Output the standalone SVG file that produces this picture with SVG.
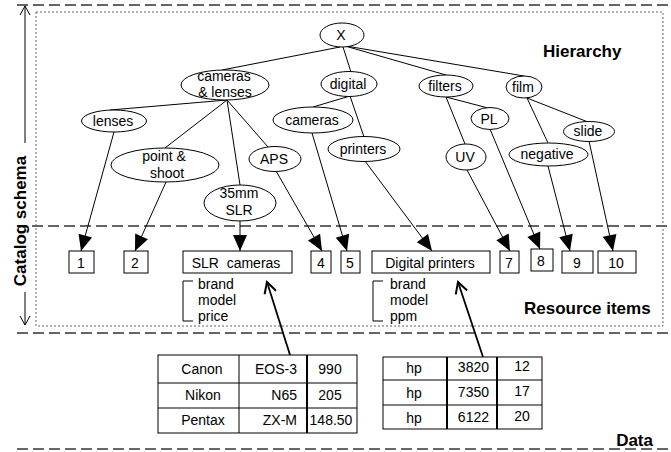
<svg xmlns="http://www.w3.org/2000/svg" width="671" height="452" viewBox="0 0 671 452">
<style>
.e{fill:#fff;stroke:#000;stroke-width:1}
.t{font-family:"Liberation Sans",Arial,Helvetica,sans-serif;font-size:14px;fill:#000}
.m{text-anchor:middle}
.r{text-anchor:end}
.b{font-weight:bold;font-size:17px}
.edge{stroke:#000;stroke-width:1;fill:none}
.arr{marker-end:url(#ah)}
.dat{stroke:#000;stroke-width:1.8;fill:none;marker-end:url(#open)}
.dash{stroke:#333;stroke-width:1.3;stroke-dasharray:11 5;fill:none}
.dot{stroke:#666;stroke-width:1;stroke-dasharray:2 2;fill:none}
.box{fill:#fff;stroke:#000;stroke-width:1}
.thk{stroke:#000;stroke-width:2}
.thn{stroke:#000;stroke-width:1}
</style>
<defs>
<marker id="ah" markerUnits="userSpaceOnUse" markerWidth="16" markerHeight="14" refX="16" refY="7" orient="auto" overflow="visible"><path d="M0,0 L16,7 L0,14 z" fill="#000"/></marker>
<marker id="open" markerUnits="userSpaceOnUse" markerWidth="14" markerHeight="14" refX="12" refY="7" orient="auto" overflow="visible"><path d="M1,1 L12,7 L1,13" fill="none" stroke="#000" stroke-width="2"/></marker>
<marker id="thinopen" markerUnits="userSpaceOnUse" markerWidth="10" markerHeight="12" refX="9" refY="6" orient="auto-start-reverse" overflow="visible"><path d="M0,1 L9,6 L0,11" fill="none" stroke="#000" stroke-width="1"/></marker>
</defs>

<g id="frame">
<line class="dash" x1="17" y1="5" x2="671" y2="5"/>
<line class="dash" x1="32" y1="226" x2="671" y2="226"/>
<line class="dash" x1="17" y1="333" x2="671" y2="333"/>
<line class="dash" x1="17" y1="449" x2="671" y2="449"/>
<rect class="dot" x="36" y="12" width="627" height="314"/>
<line x1="25" y1="143" x2="25" y2="6" stroke="#000" stroke-width="1" marker-end="url(#thinopen)"/>
<line x1="25" y1="292" x2="25" y2="325" stroke="#000" stroke-width="1" marker-end="url(#thinopen)"/>
<text class="t b m" x="26" y="221" transform="rotate(-90 26 221)">Catalog schema</text>
<text class="t b" x="543" y="57">Hierarchy</text>
<text class="t b" x="524" y="314">Resource items</text>
<text class="t b r" x="653" y="446">Data</text>
</g>

<g id="connectors">
<line class="edge" x1="340" y1="47" x2="222" y2="70"/>
<line class="edge" x1="343" y1="47" x2="351" y2="72"/>
<line class="edge" x1="345" y1="46" x2="446" y2="75"/>
<line class="edge" x1="346" y1="46" x2="524" y2="76"/>
<line class="edge" x1="227" y1="100" x2="110" y2="110"/>
<line class="edge" x1="227" y1="100" x2="165" y2="148"/>
<line class="edge" x1="227" y1="100" x2="240" y2="185"/>
<line class="edge" x1="227" y1="100" x2="268" y2="147"/>
<line class="edge" x1="350" y1="96" x2="313" y2="107"/>
<line class="edge" x1="350" y1="96" x2="364" y2="137"/>
<line class="edge" x1="446" y1="97" x2="465" y2="144"/>
<line class="edge" x1="446" y1="97" x2="488" y2="108"/>
<line class="edge" x1="527" y1="98" x2="548" y2="143"/>
<line class="edge" x1="527" y1="98" x2="588" y2="122"/>
<line class="edge arr" x1="114" y1="132" x2="81" y2="251"/>
<line class="edge arr" x1="166" y1="182" x2="135" y2="251"/>
<line class="edge arr" x1="240" y1="221" x2="240" y2="251"/>
<line class="edge arr" x1="276" y1="171" x2="322" y2="251"/>
<line class="edge arr" x1="312" y1="133" x2="347" y2="251"/>
<line class="edge arr" x1="365" y1="161" x2="432" y2="251"/>
<line class="edge arr" x1="467" y1="170" x2="510" y2="251"/>
<line class="edge arr" x1="490" y1="129" x2="540" y2="249"/>
<line class="edge arr" x1="548" y1="166" x2="570" y2="251"/>
<line class="edge arr" x1="589" y1="141" x2="613" y2="251"/>
<line class="dat" x1="290" y1="355" x2="267" y2="282"/>
<line class="dat" x1="483" y1="357" x2="458" y2="282"/>
</g>

<g id="n-X"><ellipse class="e" cx="342" cy="35" rx="22" ry="12"/><text class="t m" x="341" y="40">X</text></g>
<g id="n-cameras-lenses"><ellipse class="e" cx="225" cy="85" rx="44" ry="15"/><text class="t m" x="224" y="81">cameras</text><text class="t m" x="225" y="97">&amp; lenses</text></g>
<g id="n-digital"><ellipse class="e" cx="349" cy="84" rx="28" ry="12.5"/><text class="t m" x="348" y="89">digital</text></g>
<g id="n-filters"><ellipse class="e" cx="446" cy="86" rx="27" ry="11"/><text class="t m" x="445" y="91">filters</text></g>
<g id="n-film"><ellipse class="e" cx="524" cy="87" rx="18" ry="11"/><text class="t m" x="523" y="92">film</text></g>
<g id="n-lenses"><ellipse class="e" cx="114" cy="121" rx="32.5" ry="11"/><text class="t m" x="113" y="126">lenses</text></g>
<g id="n-cameras"><ellipse class="e" cx="313" cy="120" rx="40" ry="13"/><text class="t m" x="312" y="125">cameras</text></g>
<g id="n-point-shoot"><ellipse class="e" cx="165" cy="165" rx="54" ry="17"/><text class="t m" x="164" y="161">point &amp;</text><text class="t m" x="167" y="178">shoot</text></g>
<g id="n-APS"><ellipse class="e" cx="275" cy="159" rx="26" ry="12.5"/><text class="t m" x="274" y="164">APS</text></g>
<g id="n-35mm-SLR"><ellipse class="e" cx="240" cy="203" rx="36" ry="18"/><text class="t m" x="239" y="198">35mm</text><text class="t m" x="239" y="215">SLR</text></g>
<g id="n-printers"><ellipse class="e" cx="364" cy="149" rx="36" ry="12.5"/><text class="t m" x="363" y="154">printers</text></g>
<g id="n-PL"><ellipse class="e" cx="490" cy="118.5" rx="19" ry="11"/><text class="t m" x="489" y="124">PL</text></g>
<g id="n-UV"><ellipse class="e" cx="466" cy="157" rx="20" ry="13"/><text class="t m" x="465" y="162">UV</text></g>
<g id="n-slide"><ellipse class="e" cx="589" cy="131.5" rx="25.5" ry="10"/><text class="t m" x="588" y="136">slide</text></g>
<g id="n-negative"><ellipse class="e" cx="548.5" cy="154.5" rx="39.5" ry="11.5"/><text class="t m" x="547" y="159">negative</text></g>

<g id="r-1"><rect class="box" x="69" y="251" width="25" height="22"/><text class="t m" x="81" y="268">1</text></g>
<g id="r-2"><rect class="box" x="124" y="251" width="24" height="22"/><text class="t m" x="135" y="268">2</text></g>
<g id="r-SLR"><rect class="box" x="183" y="251" width="109" height="22"/><text class="t m" x="236" y="268" xml:space="preserve">SLR  cameras</text>
<path class="edge" d="M193,281 H183 V321 H193"/>
<text class="t" x="198" y="289">brand</text><text class="t" x="198" y="305">model</text><text class="t" x="198" y="321">price</text></g>
<g id="r-4"><rect class="box" x="311" y="251" width="20" height="22"/><text class="t m" x="321" y="268">4</text></g>
<g id="r-5"><rect class="box" x="341" y="251" width="19" height="22"/><text class="t m" x="350" y="268">5</text></g>
<g id="r-DP"><rect class="box" x="372" y="251" width="118" height="22"/><text class="t m" x="430" y="268">Digital printers</text>
<path class="edge" d="M383,281 H373 V321 H383"/>
<text class="t" x="390" y="289">brand</text><text class="t" x="390" y="305">model</text><text class="t" x="390" y="321">ppm</text></g>
<g id="r-7"><rect class="box" x="500" y="251" width="19" height="22"/><text class="t m" x="509" y="268">7</text></g>
<g id="r-8"><rect class="box" x="531" y="249" width="22" height="22"/><text class="t m" x="541" y="266">8</text></g>
<g id="r-9"><rect class="box" x="562" y="251" width="31" height="22"/><text class="t m" x="577" y="268">9</text></g>
<g id="r-10"><rect class="box" x="598" y="251" width="38" height="22"/><text class="t m" x="616" y="268">10</text></g>

<g id="table-cameras">
<rect class="box" x="158" y="355" width="199" height="78"/>
<line class="thn" x1="158" y1="383" x2="357" y2="383"/>
<line class="thn" x1="158" y1="408" x2="357" y2="408"/>
<line class="thn" x1="239" y1="355" x2="239" y2="433"/>
<line class="thk" x1="307" y1="355" x2="307" y2="433"/>
<text class="t m" x="202" y="374">Canon</text><text class="t r" x="297" y="374">EOS-3</text><text class="t m" x="330" y="374">990</text>
<text class="t m" x="203" y="400">Nikon</text><text class="t r" x="297" y="400">N65</text><text class="t m" x="330" y="400">205</text>
<text class="t m" x="203" y="425">Pentax</text><text class="t r" x="297" y="425">ZX-M</text><text class="t m" x="331" y="425">148.50</text>
</g>

<g id="table-printers">
<rect class="box" x="383" y="357" width="159" height="72"/>
<line class="thn" x1="383" y1="380" x2="542" y2="380"/>
<line class="thn" x1="383" y1="405" x2="542" y2="405"/>
<line class="thk" x1="447" y1="357" x2="447" y2="429"/>
<line class="thk" x1="497" y1="357" x2="497" y2="429"/>
<text class="t m" x="414" y="373">hp</text><text class="t r" x="489" y="372">3820</text><text class="t m" x="522" y="371">12</text>
<text class="t m" x="414" y="398">hp</text><text class="t r" x="489" y="397">7350</text><text class="t m" x="522" y="396">17</text>
<text class="t m" x="414" y="423">hp</text><text class="t r" x="489" y="422">6122</text><text class="t m" x="522" y="421">20</text>
</g>
</svg>
